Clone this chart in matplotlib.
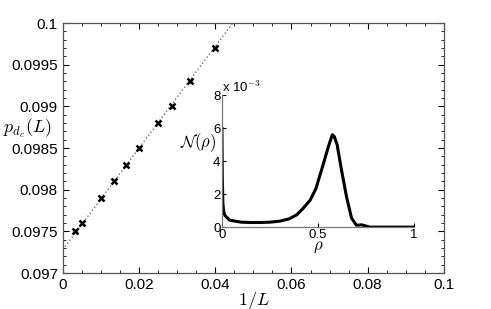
import matplotlib
matplotlib.use("Agg")
import matplotlib.pyplot as plt
from matplotlib.ticker import AutoMinorLocator

plt.rcParams["font.family"] = ["Liberation Sans", "DejaVu Sans"]
plt.rcParams["mathtext.fontset"] = "cm"

# main panel: finite-size estimates of the critical point
inv_L = [0.0033, 0.005, 0.01, 0.0133, 0.0167, 0.02, 0.025, 0.0286, 0.0333, 0.04]
p_dc = [0.0975, 0.0976, 0.0979, 0.0981, 0.0983, 0.0985, 0.0988, 0.0990, 0.0993, 0.0997]

# linear extrapolation (dotted line)
fit_x = [0.0, 0.046]
fit_intercept = 0.09728
fit_slope = 0.061

x_ticks = [0, 0.02, 0.04, 0.06, 0.08, 0.1]
x_labels = ["0", "0.02", "0.04", "0.06", "0.08", "0.1"]
y_ticks = [0.097, 0.0975, 0.098, 0.0985, 0.099, 0.0995, 0.1]
y_labels = ["0.097", "0.0975", "0.098", "0.0985", "0.099", "0.0995", "0.1"]

# inset: distribution N(rho), in units of 1e-3
rho = [0.0, 0.002, 0.005, 0.01, 0.016, 0.04, 0.1, 0.15, 0.2, 0.25, 0.3,
       0.35, 0.39, 0.42, 0.46, 0.49, 0.53, 0.555, 0.575, 0.585, 0.6, 0.623,
       0.649, 0.675, 0.7, 0.715, 0.727, 0.74, 0.77, 1.0]
n_rho = [6.0, 3.0, 1.4, 0.9, 0.7, 0.42, 0.3, 0.28, 0.28, 0.3, 0.36,
         0.5, 0.75, 1.1, 1.64, 2.35, 3.9, 4.9, 5.6, 5.5, 5.0, 3.45,
         1.84, 0.55, 0.12, 0.12, 0.14, 0.1, 0.0, 0.0]
inset_x_ticks = [0, 0.5, 1]
inset_x_labels = ["0", "0.5", "1"]
inset_y_ticks = [0, 2, 4, 6, 8]

fig = plt.figure(figsize=(4.91, 3.09), dpi=100)
ax = fig.add_axes([0.128, 0.1165, 0.776, 0.809])

fit_y = [fit_intercept + fit_slope * x for x in fit_x]
ax.plot(fit_x, fit_y, linestyle=(0, (1, 2)), color="#555555", linewidth=0.9)
ax.plot(inv_L, p_dc, "x", color="black", markersize=4.5, markeredgewidth=1.8)

ax.set_xticks(x_ticks)
ax.set_xticklabels(x_labels)
ax.set_yticks(y_ticks)
ax.set_yticklabels(y_labels)
ax.set_xlim(0, 0.1)
ax.set_ylim(0.097, 0.1)
ax.xaxis.set_minor_locator(AutoMinorLocator(4))
ax.yaxis.set_minor_locator(AutoMinorLocator(5))
ax.tick_params(which="both", direction="in", top=True, right=True, labelsize=11, colors="black")
ax.tick_params(which="major", length=4)
ax.tick_params(which="minor", length=2)
for s in ax.spines.values():
    s.set_color("#555555")
    s.set_linewidth(0.9)

ax.set_xlabel("$1/L$", fontsize=13, labelpad=-1)
ax.text(-0.092, 0.58, "$p_{d_c}(L)$", transform=ax.transAxes, fontsize=13,
        ha="center", va="center")

# inset
ins = fig.add_axes([0.452, 0.265, 0.391, 0.427])
ins.plot(rho, n_rho, color="black", linewidth=2.2)
ins.set_xticks(inset_x_ticks)
ins.set_xticklabels(inset_x_labels)
ins.set_yticks(inset_y_ticks)
ins.set_xlim(0, 1)
ins.set_ylim(0, 8)
ins.tick_params(direction="in", labelsize=9.5, length=3, pad=1)
ins.spines["top"].set_visible(False)
ins.spines["right"].set_visible(False)
for s in ["left", "bottom"]:
    ins.spines[s].set_color("#777777")
    ins.spines[s].set_linewidth(0.9)
ins.patch.set_alpha(0)
ins.set_xlabel(r"$\rho$", fontsize=12, labelpad=-1)
ins.text(-0.03, 0.64, r"$\mathcal{N}(\rho)$", transform=ins.transAxes, fontsize=12,
         ha="right", va="center")
ins.text(0.0, 1.0, r"x 10$^{-3}$", transform=ins.transAxes, fontsize=9.5,
         ha="left", va="bottom")

fig.savefig("out.png", dpi=100)
